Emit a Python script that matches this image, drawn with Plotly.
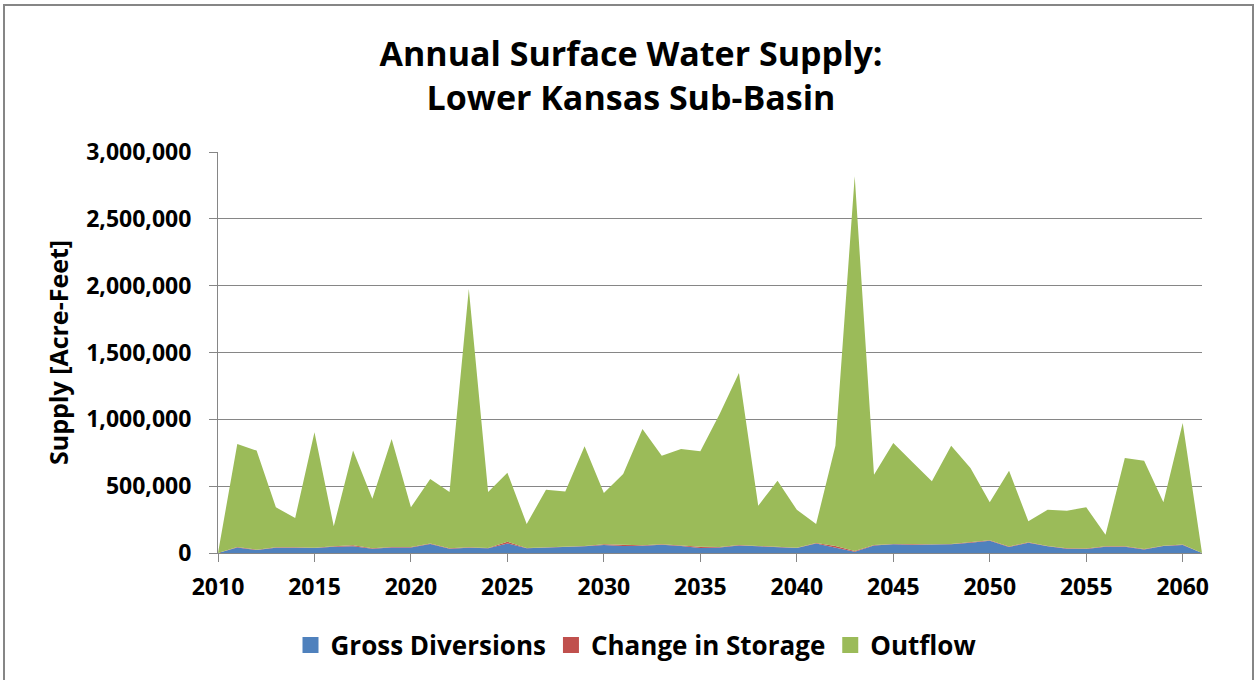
import plotly.graph_objects as go

years = list(range(2010, 2062))

total = [0, 815000, 766000, 342000, 262000, 903000, 200000, 766000, 406000, 853000,
         342000, 554000, 456000, 1975000, 456000, 600000, 217000, 474000, 461000, 798000,
         449000, 591000, 928000, 728000, 778000, 761000, 1040000, 1347000, 354000, 541000,
         324000, 217000, 803000, 2818000, 586000, 823000, 678000, 536000, 803000, 636000,
         379000, 616000, 237000, 324000, 317000, 342000, 137000, 711000, 691000, 379000,
         973000, 0]

gross_diversions = [0, 42000, 22000, 40000, 40000, 37000, 47000, 50000, 32000, 42000,
                    42000, 67000, 32000, 40000, 35000, 72000, 35000, 40000, 40000, 50000,
                    60000, 52000, 55000, 62000, 52000, 37000, 42000, 57000, 50000, 45000,
                    37000, 72000, 40000, 10000, 57000, 65000, 62000, 62000, 65000, 77000,
                    92000, 45000, 77000, 50000, 32000, 30000, 47000, 47000, 27000, 52000,
                    60000, 0]

change_in_storage = [0, 3000, 3000, 3000, 3000, 3000, 3000, 8000, 3000, 3000,
                     3000, 5000, 3000, 3000, 3000, 12000, 3000, 4000, 8000, 3000,
                     6000, 8000, 3000, 3000, 3000, 10000, 3000, 3000, 3000, 3000,
                     3000, 3000, 12000, 5000, 3000, 3000, 3000, 3000, 3000, 3000,
                     3000, 3000, 3000, 3000, 3000, 3000, 3000, 3000, 3000, 3000,
                     3000, 0]

outflow = [max(t - g - s, 0) for t, g, s in zip(total, gross_diversions, change_in_storage)]

series_names = ["Gross Diversions", "Change in Storage", "Outflow"]
series_values = [gross_diversions, change_in_storage, outflow]
series_colors = ["#4F81BD", "#C0504D", "#9BBB59"]

FONT = "Open Sans"

fig = go.Figure()
for name, vals, col in zip(series_names, series_values, series_colors):
    fig.add_trace(go.Scatter(x=years, y=vals, name=name, mode="lines",
                             stackgroup="one", line=dict(width=0, color=col),
                             fillcolor=col, showlegend=False, legendgroup=name))
# legend entries with square swatches
for name, col in zip(series_names, series_colors):
    fig.add_trace(go.Scatter(x=[None], y=[None], name=name, mode="markers",
                             marker=dict(symbol="square", size=17, color=col),
                             showlegend=True, legendgroup=name))

fig.update_layout(
    width=1257, height=680,
    paper_bgcolor="white", plot_bgcolor="white",
    margin=dict(l=218, r=55, t=152, b=127),
    title=dict(text="Annual Surface Water Supply:<br>Lower Kansas Sub-Basin",
               x=631 / 1257, xanchor="center", xref="container",
               y=1 - 66 / 680, yanchor="middle",
               font=dict(family=FONT, size=34, color="black", weight="bold")),
    font=dict(family=FONT, color="black"),
    xaxis=dict(range=[2010, 2061], tickmode="array", tickvals=list(range(2010, 2061, 5)),
               showgrid=False, showline=True, linecolor="#868686", linewidth=1,
               ticks="outside", ticklen=8, tickcolor="#868686", ticklabelstandoff=5,
               tickfont=dict(family=FONT, size=23, weight="bold"), zeroline=False,
               automargin=False),
    yaxis=dict(range=[0, 3000000], dtick=500000, tickformat=",",
               showgrid=True, gridcolor="#868686", gridwidth=1,
               showline=True, linecolor="#868686", linewidth=1,
               ticks="outside", ticklen=8, tickcolor="#868686", ticklabelstandoff=13,
               tickfont=dict(family=FONT, size=23, weight="bold"), zeroline=False,
               automargin=False,
               title=dict(text="Supply [Acre-Feet]", standoff=10,
                          font=dict(family=FONT, size=25, weight="bold"))),
    legend=dict(orientation="h", x=(636 - 218) / 984, xanchor="center", xref="paper",
                y=(553 - 645) / 401, yanchor="middle",
                font=dict(family=FONT, size=26, weight="bold"),
                itemsizing="trace", traceorder="normal"),
    showlegend=True,
)

fig.add_shape(type="rect", xref="paper", yref="paper",
              x0=(4 - 218) / 984, x1=(1253 - 218) / 984, y0=-0.5, y1=(553 - 5) / 401,
              line=dict(color="#868686", width=2), fillcolor="rgba(0,0,0,0)", layer="below")

fig.write_html("out.html", config={"displayModeBar": False},
               post_script="document.body.style.margin='0px';")
